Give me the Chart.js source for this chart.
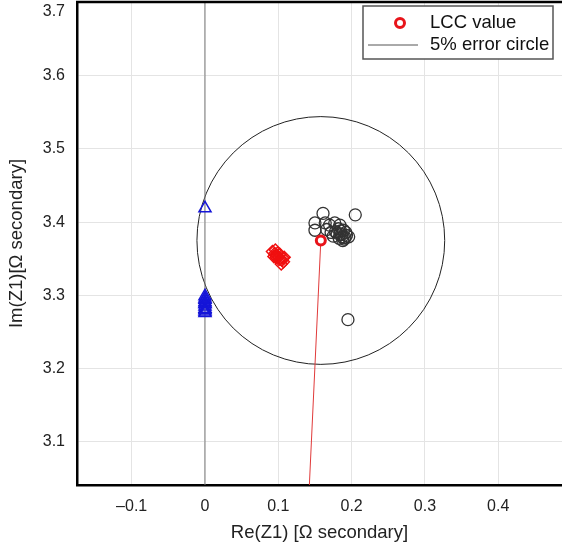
<!DOCTYPE html>
<html><head><meta charset="utf-8">
<script src="https://cdn.jsdelivr.net/npm/chart.js@4.4.1/dist/chart.umd.min.js"></script>
<style>html,body{margin:0;padding:0;background:#fff}#wrap{width:562px;height:550px}</style>
</head><body><div id="wrap"><canvas id="c" width="562" height="550"></canvas></div>
<script>
// ---- data ----
const xTicks = [-0.1, 0, 0.1, 0.2, 0.3, 0.4];
const xTickLabels = ['\u20130.1', '0', '0.1', '0.2', '0.3', '0.4'];
const yTicks = [3.1, 3.2, 3.3, 3.4, 3.5, 3.6, 3.7];
const yTickLabels = ['3.1', '3.2', '3.3', '3.4', '3.5', '3.6', '3.7'];

const blackRe = [0.161, 0.205, 0.150, 0.150, 0.164, 0.170, 0.177, 0.184, 0.189, 0.175, 0.180, 0.183, 0.186, 0.190, 0.193, 0.196, 0.185, 0.188, 0.192, 0.182, 0.178, 0.166, 0.172, 0.195, 0.187, 0.191, 0.184];
const blackIm = [3.412, 3.410, 3.399, 3.389, 3.399, 3.396, 3.399, 3.396, 3.389, 3.381, 3.385, 3.378, 3.383, 3.377, 3.382, 3.380, 3.388, 3.375, 3.386, 3.391, 3.387, 3.390, 3.386, 3.267, 3.380, 3.379, 3.384];

const redRe = [0.092, 0.095, 0.098, 0.100, 0.103, 0.105, 0.107, 0.102, 0.097, 0.104, 0.108, 0.094, 0.099, 0.101, 0.106, 0.096];
const redIm = [3.360, 3.357, 3.355, 3.352, 3.350, 3.348, 3.346, 3.356, 3.352, 3.343, 3.352, 3.353, 3.358, 3.349, 3.351, 3.362];

const blueRe = [0, 0, 0, 0, 0, 0, 0, 0, 0, 0, 0, 0];
const blueIm = [3.419, 3.299, 3.296, 3.294, 3.291, 3.289, 3.288, 3.285, 3.282, 3.280, 3.278, 3.276];

const lccRe = [0.158];
const lccIm = [3.375];
const originRe = [0];
const originIm = [0];
const errorCircleRadius = 0.169; // 5% of |Z1|

const zeroLineRe = [0, 0];
const zeroLineIm = [2.9, 3.9];

const legendLabels = ['LCC value', '5% error circle'];

// ---- build ----
const FONT = '"Liberation Sans", Arial, sans-serif';
const pts = (xs, ys) => xs.map((x, i) => ({ x: x, y: ys[i] }));

const overlay = {
  id: 'overlay',
  beforeDatasetsDraw(chart) {
    const { ctx, chartArea: a, scales: { x, y } } = chart;
    ctx.save();
    ctx.beginPath();
    ctx.rect(a.left, a.top, a.right - a.left, a.bottom - a.top);
    ctx.clip();
    const cx = x.getPixelForValue(lccRe[0]);
    const cy = y.getPixelForValue(lccIm[0]);
    const r = x.getPixelForValue(lccRe[0] + errorCircleRadius) - cx;
    ctx.beginPath();
    ctx.arc(cx, cy, r, 0, Math.PI * 2);
    ctx.strokeStyle = '#222';
    ctx.lineWidth = 1;
    ctx.stroke();
    ctx.restore();
  },
  afterDraw(chart) {
    const { ctx, chartArea: a } = chart;
    ctx.save();
    // top border
    ctx.strokeStyle = '#000';
    ctx.lineWidth = 2.5;
    ctx.beginPath();
    ctx.moveTo(a.left - 1, a.top);
    ctx.lineTo(a.right + 2, a.top);
    ctx.stroke();
    // top tick label (kept inside the canvas)
    ctx.fillStyle = '#222';
    ctx.font = '16px ' + FONT;
    ctx.textAlign = 'right';
    ctx.textBaseline = 'middle';
    ctx.fillText(yTickLabels[yTickLabels.length - 1], a.left - 12, 12);
    // legend
    const bx = 363, by = 6, bw = 190, bh = 53;
    ctx.fillStyle = '#fff';
    ctx.fillRect(bx, by, bw, bh);
    ctx.strokeStyle = '#555';
    ctx.lineWidth = 1.5;
    ctx.strokeRect(bx, by, bw, bh);
    ctx.beginPath();
    ctx.arc(400, 23, 4.5, 0, Math.PI * 2);
    ctx.strokeStyle = '#e8141a';
    ctx.lineWidth = 3;
    ctx.stroke();
    ctx.beginPath();
    ctx.moveTo(368, 45);
    ctx.lineTo(418, 45);
    ctx.strokeStyle = '#555';
    ctx.lineWidth = 1;
    ctx.stroke();
    ctx.fillStyle = '#111';
    ctx.font = '18.5px ' + FONT;
    ctx.textAlign = 'left';
    ctx.fillText(legendLabels[0], 430, 23);
    ctx.fillText(legendLabels[1], 430, 45);
    ctx.restore();
  }
};

new Chart(document.getElementById('c'), {
  type: 'scatter',
  data: {
    datasets: [
      { label: 'Re = 0', data: pts(zeroLineRe, zeroLineIm), showLine: true, borderColor: '#7a7a7a', borderWidth: 1, pointRadius: 0, order: 6 },
      { label: 'Angle line', data: pts(originRe.concat(lccRe), originIm.concat(lccIm)), showLine: true, borderColor: '#e03a3a', borderWidth: 1, pointRadius: 0, order: 5 },
      { label: 'Measured A', data: pts(blackRe, blackIm), pointStyle: 'circle', pointRadius: 6, borderColor: '#333', backgroundColor: 'rgba(0,0,0,0)', borderWidth: 1.3, order: 4 },
      { label: 'Measured B', data: pts(redRe, redIm), pointStyle: 'rectRot', pointRadius: 6, borderColor: '#f01010', backgroundColor: 'rgba(0,0,0,0)', borderWidth: 1.5, order: 3 },
      { label: 'Measured C', data: pts(blueRe, blueIm), pointStyle: 'triangle', pointRadius: 7, borderColor: '#1515d8', backgroundColor: 'rgba(0,0,0,0)', borderWidth: 1.5, order: 2 },
      { label: 'LCC value', data: pts(lccRe, lccIm), pointStyle: 'circle', pointRadius: 4.5, borderColor: '#e8141a', backgroundColor: '#fff', borderWidth: 3, order: 1 }
    ]
  },
  options: {
    responsive: false,
    animation: false,
    devicePixelRatio: 1,
    layout: { autoPadding: false, padding: { top: 2, right: 0, left: 0, bottom: 0 } },
    plugins: { legend: { display: false }, tooltip: { enabled: false } },
    scales: {
      x: {
        type: 'linear', min: -0.1746, max: 0.487,
        afterBuildTicks(s) { s.ticks = xTicks.map(v => ({ value: v })); },
        afterFit(s) { s.height = 65; s.paddingLeft = 0; s.paddingRight = 0; },
        ticks: {
          padding: 12, color: '#222',
          font: { family: FONT, size: 16 },
          callback(v) { const i = xTicks.findIndex(t => Math.abs(t - v) < 1e-9); return i >= 0 ? xTickLabels[i] : ''; }
        },
        grid: { color: '#e4e4e4', lineWidth: 1, drawTicks: false },
        border: { display: true, color: '#000', width: 2.5 },
        title: { display: true, text: 'Re(Z1) [\u03A9 secondary]', color: '#222', font: { family: FONT, size: 18.5 }, padding: { top: 0, bottom: 6 } }
      },
      y: {
        type: 'linear', min: 3.0413, max: 3.7005,
        afterBuildTicks(s) { s.ticks = yTicks.map(v => ({ value: v })); },
        afterFit(s) { s.width = 77; s.paddingTop = 0; s.paddingBottom = 0; },
        ticks: {
          padding: 12, color: '#222',
          font: { family: FONT, size: 16 },
          callback(v) { const i = yTicks.findIndex(t => Math.abs(t - v) < 1e-9); return (i >= 0 && i < yTicks.length - 1) ? yTickLabels[i] : ''; }
        },
        grid: { color: '#e4e4e4', lineWidth: 1, drawTicks: false },
        border: { display: true, color: '#000', width: 2.5 },
        title: { display: true, text: 'Im(Z1)[\u03A9 secondary]', color: '#222', font: { family: FONT, size: 18.5 }, padding: { top: 6, bottom: 0 } }
      }
    }
  },
  plugins: [overlay]
});
</script>
</body></html>
